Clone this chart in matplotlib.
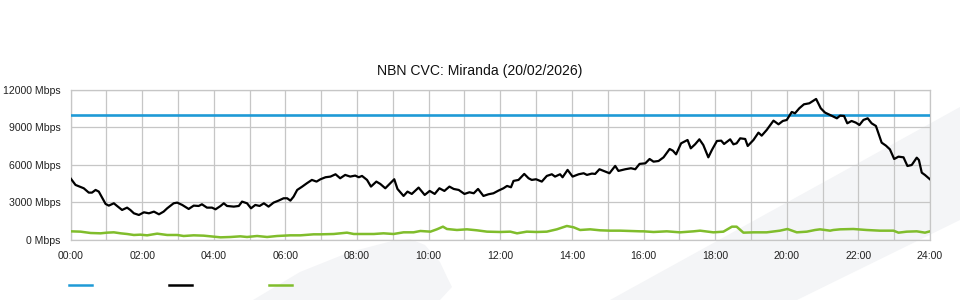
import matplotlib
matplotlib.use("Agg")
import matplotlib.pyplot as plt
from matplotlib.patches import Polygon
from matplotlib.lines import Line2D

title = "NBN CVC: Miranda (20/02/2026)"
capacity_mbps = 10000

black_hours = [0.0, 0.14, 0.37, 0.51, 0.60, 0.70, 0.79, 0.98, 1.07, 1.21, 1.30, 1.44, 1.58, 1.67,
               1.77, 1.91, 2.05, 2.19, 2.33, 2.47, 2.60, 2.70, 2.88, 2.98, 3.12, 3.30, 3.44, 3.58,
               3.67, 3.81, 3.95, 4.05, 4.19, 4.28, 4.37, 4.56, 4.70, 4.79, 4.93, 5.04, 5.16, 5.28,
               5.40, 5.53, 5.67, 5.81, 5.95, 6.05, 6.14, 6.23, 6.33, 6.47, 6.60, 6.74, 6.87, 6.98,
               7.12, 7.26, 7.40, 7.53, 7.67, 7.81, 7.95, 8.05, 8.14, 8.28, 8.39, 8.54, 8.65, 8.79,
               8.93, 9.04, 9.13, 9.30, 9.41, 9.53, 9.72, 9.89, 10.03, 10.17, 10.30, 10.44, 10.58,
               10.70, 10.84, 11.00, 11.14, 11.26, 11.38, 11.53, 11.67, 11.81, 11.95, 12.09, 12.19,
               12.30, 12.37, 12.51, 12.67, 12.79, 12.88, 13.00, 13.16, 13.30, 13.44, 13.53, 13.67,
               13.74, 13.88, 14.02, 14.19, 14.33, 14.42, 14.56, 14.65, 14.77, 14.93, 15.05, 15.21,
               15.30, 15.49, 15.65, 15.77, 15.89, 16.05, 16.17, 16.28, 16.42, 16.56, 16.73, 16.82,
               16.91, 17.05, 17.23, 17.32, 17.44, 17.56, 17.67, 17.81, 17.91, 18.05, 18.17, 18.25,
               18.42, 18.51, 18.60, 18.70, 18.84, 18.91, 19.07, 19.21, 19.30, 19.44, 19.63, 19.77,
               19.89, 20.00, 20.14, 20.23, 20.35, 20.48, 20.63, 20.82, 20.95, 21.07, 21.21, 21.40,
               21.49, 21.60, 21.69, 21.81, 21.93, 22.03, 22.14, 22.26, 22.37, 22.49, 22.65, 22.77,
               22.88, 23.00, 23.12, 23.26, 23.37, 23.49, 23.63, 23.69, 23.77, 23.86, 24.00]
black_mbps = [4916, 4380, 4112, 3764, 3764, 3978, 3844, 2853, 2719, 2907, 2692, 2371, 2558, 2371,
              2103, 1969, 2183, 2103, 2237, 2023, 2237, 2505, 2907, 2960, 2773, 2451, 2719, 2692,
              2826, 2558, 2558, 2424, 2692, 2907, 2692, 2639, 2692, 3041, 2907, 2505, 2773, 2692,
              2907, 2639, 2960, 3121, 3309, 3309, 3121, 3443, 3978, 4246, 4514, 4782, 4648, 4836,
              4996, 5050, 5237, 4916, 5184, 5050, 5130, 4996, 5103, 4782, 4246, 4648, 4460, 4112,
              4514, 4836, 4058, 3496, 3844, 3657, 4166, 3576, 3898, 3657, 4112, 3898, 4246,
              4058, 3978, 3657, 3791, 3710, 4058, 3496, 3630, 3710, 3925, 4112, 4300,
              4193, 4702, 4782, 5264, 4916, 4782, 4836, 4648, 5103, 5237, 5050, 5237,
              4996, 5586, 5050, 5237, 5318, 5184, 5291, 5264, 5639, 5452, 5318, 5907,
              5505, 5639, 5720, 5639, 6068, 6114, 6462, 6248, 6301, 6596, 7265, 7131,
              6837, 7720, 7988, 7319, 7640, 8041, 7586, 6596, 7185, 7908, 7934, 7667,
              8041, 7640, 7720, 8122, 8068, 7506, 7988, 8577, 8336, 8791, 9540, 9246,
              9514, 9594, 10237, 10130, 10531, 10852, 10933, 11281, 10531, 10183, 9995, 9728,
              9942, 9915, 9326, 9514, 9380, 9192, 9594, 9728, 9326, 9112, 7774, 7533,
              7238, 6462, 6650, 6596, 5900, 5981, 6569, 6382, 5365, 5178, 4830]

green_hours = [0.0, 0.28, 0.56, 0.84, 1.02, 1.21, 1.40, 1.58, 1.77, 1.95, 2.14, 2.42, 2.70, 2.98,
               3.16, 3.44, 3.72, 4.00, 4.19, 4.47, 4.74, 4.93, 5.21, 5.49, 5.77, 6.14, 6.42, 6.79,
               6.98, 7.35, 7.72, 7.91, 8.19, 8.47, 8.74, 9.02, 9.30, 9.58, 9.77, 10.05, 10.23,
               10.40, 10.51, 10.79, 11.07, 11.35, 11.63, 12.00, 12.28, 12.47, 12.74, 13.02, 13.30,
               13.58, 13.86, 14.05, 14.23, 14.51, 14.79, 15.07, 15.35, 15.63, 15.91, 16.00, 16.28,
               16.65, 17.02, 17.40, 17.58, 17.95, 18.23, 18.47, 18.60, 18.79, 19.07, 19.44, 19.81,
               20.02, 20.28, 20.56, 20.79, 20.93, 21.21, 21.30, 21.49, 21.86, 22.23, 22.60, 22.98,
               23.12, 23.35, 23.63, 23.86, 24.00]
green_mbps = [656, 630, 522, 496, 549, 576, 496, 442, 362, 388, 335, 469, 362, 362,
              281, 335, 308, 228, 174, 201, 254, 201, 281, 201, 281, 335, 335, 415,
              415, 442, 549, 442, 442, 442, 496, 442, 576, 576, 683, 630, 817,
              1031, 844, 763, 817, 737, 630, 603, 630, 496, 630, 603, 630,
              817, 1085, 978, 763, 817, 737, 709, 709, 683, 656, 656, 602,
              656, 575, 656, 709, 575, 629, 1030, 1030, 549, 575, 575, 709,
              843, 575, 629, 763, 816, 709, 763, 816, 843, 763, 709, 709,
              549, 629, 656, 549, 656]

y_ticks = [0, 3000, 6000, 9000, 12000]
y_labels = ["0 Mbps", "3000 Mbps", "6000 Mbps", "9000 Mbps", "12000 Mbps"]
x_ticks = list(range(0, 25, 2))
x_labels = [f"{h:02d}:00" for h in x_ticks]

BLUE = "#1f9ad6"
GREEN = "#80bd2c"
GRID = "#c6c6c6"
WM = "#f4f5f7"

plt.rcParams["font.family"] = ["Liberation Sans", "DejaVu Sans"]
W, H = 960, 300
fig = plt.figure(figsize=(9.6, 3.0), dpi=100)
fig.patch.set_facecolor("white")

# background watermark shapes (pixel coordinates, y measured from top)
def px(pts):
    return [(x / W, 1 - y / H) for x, y in pts]

band = Polygon(px([(610, 300), (960, 107), (960, 220), (797, 300)]), closed=True,
               facecolor=WM, edgecolor="none", transform=fig.transFigure, zorder=-5)
blob = Polygon(px([(253, 300), (300, 272), (350, 252), (392, 241), (410, 239), (425, 245),
                   (440, 262), (447, 277), (452, 287), (440, 300)]), closed=True,
               facecolor=WM, edgecolor="none", transform=fig.transFigure, zorder=-5)
fig.patches.extend([band, blob])

ax = fig.add_axes([70.5 / W, 1 - 239.5 / H, 859.5 / W, 149.5 / H])
ax.set_zorder(1)
ax.set_facecolor("none")
ax.set_xlim(0, 24)
ax.set_ylim(0, 12000)
ax.set_xticks(range(0, 25))
ax.set_xticklabels([x_labels[x_ticks.index(h)] if h in x_ticks else "" for h in range(0, 25)])
ax.set_yticks(y_ticks)
ax.set_yticklabels(y_labels)
ax.tick_params(length=0, labelsize=7.6, colors="#222222")
ax.tick_params(axis="x", pad=8)
ax.tick_params(axis="y", pad=7)
ax.grid(True, color=GRID, linewidth=0.9)
ax.set_axisbelow(True)
for s in ax.spines.values():
    s.set_color(GRID)
    s.set_linewidth(0.9)

ax.plot([0, 24], [capacity_mbps, capacity_mbps], color=BLUE, lw=1.9, zorder=3)
ax.plot(green_hours, green_mbps, color=GREEN, lw=1.8, zorder=3)
ax.plot(black_hours, black_mbps, color="black", lw=1.6, zorder=4)

fig.text(480 / W, 1 - 71 / H, title, ha="center", va="center", fontsize=10.1, color="#111111")

# legend swatches (no text)
for x0, c in [(69, BLUE), (169, "black"), (269, GREEN)]:
    fig.add_artist(Line2D([x0 / W, (x0 + 23) / W], [1 - 285 / H, 1 - 285 / H],
                          color=c, lw=1.8, transform=fig.transFigure, zorder=2))

fig.savefig("out.png", dpi=100)
